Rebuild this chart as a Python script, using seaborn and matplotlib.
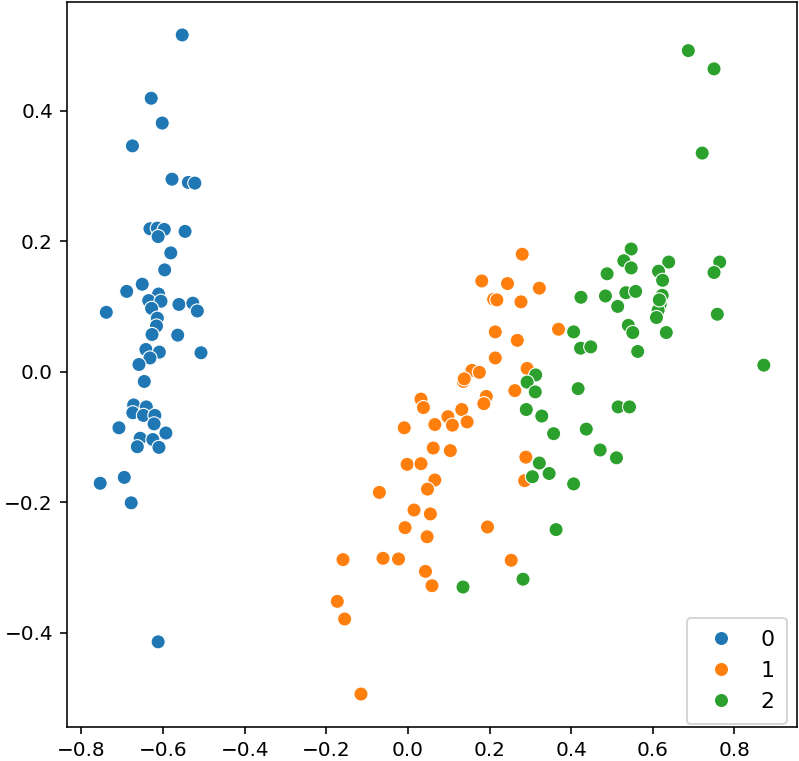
import numpy as np
import matplotlib
matplotlib.use("Agg")
import matplotlib.pyplot as plt
import seaborn as sns

# puntos de cada grupo
x0 = [-0.553, -0.629, -0.602, -0.675, -0.578, -0.538, -0.522, -0.632, -0.614, -0.597,
      -0.612, -0.546, -0.581, -0.596, -0.651, -0.689, -0.611, -0.635, -0.605, -0.628,
      -0.561, -0.527, -0.516, -0.739, -0.614, -0.616, -0.627, -0.564, -0.642, -0.609,
      -0.632, -0.507, -0.659, -0.646, -0.672, -0.641, -0.674, -0.648, -0.620, -0.622,
      -0.708, -0.593, -0.656, -0.625, -0.663, -0.610, -0.754, -0.695, -0.678, -0.612]
y0 = [0.516, 0.419, 0.381, 0.346, 0.295, 0.290, 0.289, 0.219, 0.220, 0.218,
      0.207, 0.215, 0.182, 0.156, 0.134, 0.123, 0.119, 0.109, 0.108, 0.097,
      0.103, 0.105, 0.093, 0.091, 0.082, 0.070, 0.057, 0.056, 0.034, 0.030,
      0.021, 0.029, 0.011, -0.015, -0.051, -0.054, -0.063, -0.067, -0.067, -0.080,
      -0.086, -0.094, -0.102, -0.104, -0.115, -0.116, -0.171, -0.162, -0.201, -0.414]

x1 = [0.280, 0.181, 0.244, 0.322, 0.210, 0.218, 0.277, 0.214, 0.268, 0.214,
      0.292, 0.157, 0.175, 0.136, 0.138, 0.262, 0.032, 0.038, 0.192, 0.186,
      0.132, 0.098, 0.109, 0.145, 0.066, -0.009, 0.062, 0.104, -0.002, 0.032,
      0.289, 0.066, 0.286, 0.369, 0.048, -0.070, 0.015, 0.055, -0.007, 0.047,
      0.195, -0.159, -0.061, -0.023, 0.043, 0.059, 0.253, -0.173, -0.155, -0.115]
y1 = [0.180, 0.139, 0.135, 0.128, 0.111, 0.110, 0.107, 0.061, 0.048, 0.021,
      0.005, 0.002, -0.001, -0.015, -0.011, -0.029, -0.042, -0.055, -0.038, -0.049,
      -0.058, -0.069, -0.082, -0.077, -0.081, -0.086, -0.117, -0.121, -0.142, -0.141,
      -0.131, -0.166, -0.167, 0.065, -0.180, -0.185, -0.212, -0.218, -0.239, -0.253,
      -0.238, -0.288, -0.286, -0.287, -0.306, -0.328, -0.289, -0.352, -0.379, -0.494]

x2 = [0.687, 0.750, 0.721, 0.639, 0.614, 0.624, 0.764, 0.750, 0.623, 0.618,
      0.613, 0.609, 0.633, 0.758, 0.872, 0.547, 0.529, 0.547, 0.488, 0.424,
      0.484, 0.534, 0.558, 0.514, 0.540, 0.551, 0.406, 0.423, 0.448, 0.563,
      0.417, 0.515, 0.543, 0.357, 0.437, 0.471, 0.511, 0.346, 0.313, 0.292,
      0.312, 0.290, 0.328, 0.322, 0.305, 0.406, 0.135, 0.282, 0.363, 0.616]
y2 = [0.492, 0.464, 0.335, 0.168, 0.154, 0.140, 0.168, 0.152, 0.117, 0.103,
      0.094, 0.083, 0.060, 0.088, 0.010, 0.188, 0.170, 0.159, 0.150, 0.114,
      0.116, 0.121, 0.123, 0.100, 0.071, 0.060, 0.061, 0.036, 0.038, 0.031,
      -0.026, -0.054, -0.054, -0.095, -0.088, -0.120, -0.132, -0.156, -0.005, -0.016,
      -0.031, -0.058, -0.068, -0.140, -0.161, -0.172, -0.330, -0.318, -0.242, 0.110]

etiquetas = ["0", "1", "2"]

x = np.concatenate([x0, x1, x2])
y = np.concatenate([y0, y1, y2])
grupo = np.repeat(etiquetas, [len(x0), len(x1), len(x2)])

fig = plt.figure(figsize=(799 / 144, 761 / 144), dpi=144)
ax = fig.add_axes([67 / 799, 34 / 761, 730 / 799, 725 / 761])

sns.scatterplot(x=x, y=y, hue=grupo, hue_order=etiquetas, s=50, ax=ax)
ax.legend(loc="lower right", fontsize=11, borderaxespad=0,
          bbox_to_anchor=(0.986, 0.004), borderpad=0.55)

fig.savefig("out.png", dpi=144)
